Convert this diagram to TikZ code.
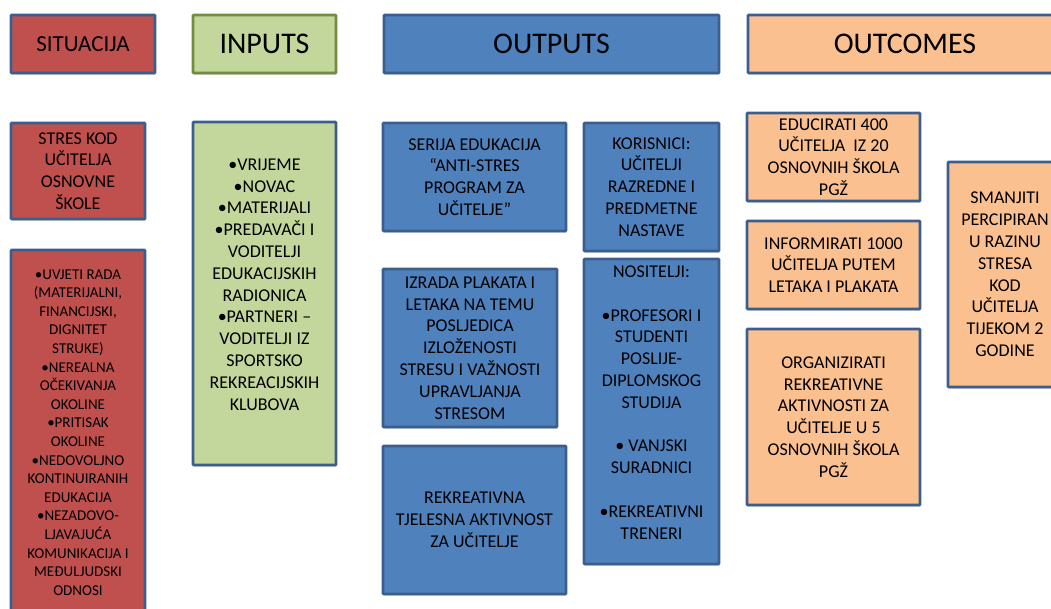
\documentclass[tikz,border=0pt]{standalone}
\usepackage{fontspec}
\setmainfont{Carlito}
\usetikzlibrary{shadows}
\definecolor{cred}{HTML}{C0504D}
\definecolor{cgreen}{HTML}{C3D69B}
\definecolor{cblue}{HTML}{4F81BD}
\definecolor{corange}{HTML}{FAC090}
\definecolor{cborder}{HTML}{3A5F8E}
\definecolor{cgborder}{HTML}{738C3E}
\begin{document}
\begin{tikzpicture}[x=1pt,y=-1pt,
  box/.style={draw=cborder, line width=2.6pt, align=center, inner sep=0pt,
    text=black, rounded corners=0.8pt,
    drop shadow={shadow xshift=0.8pt, shadow yshift=-1.8pt, opacity=0.25, fill=black!60}},
  bodytxt/.style={font=\fontsize{18}{21.8}\selectfont, align=center, text=black},
  smalltxt/.style={font=\fontsize{15}{18.6}\selectfont, align=center, text=black},
  headtxt/.style={font=\fontsize{30}{36}\selectfont}
]
\useasboundingbox (0,0) rectangle (1051,608);
\clip (0,0) rectangle (1051,608);

% headers
\node[box, fill=cred, minimum width=144pt, minimum height=58pt,
  font=\fontsize{23}{28}\selectfont] (sit) at (83,44) {SITUACIJA};
\node[box, draw=cgborder, fill=cgreen, minimum width=143pt, minimum height=58pt, headtxt] (inp) at (264.5,44) {INPUTS};
\node[box, fill=cblue, minimum width=335pt, minimum height=58pt, headtxt] (out) at (551.5,44) {OUTPUTS};
\node[box, fill=corange, minimum width=314pt, minimum height=58pt, headtxt] (outc) at (905,44) {OUTCOMES};

% situacija column
\node[box, fill=cred, minimum width=134pt, minimum height=96pt, bodytxt] (stres) at (78,171)
  {STRES KOD\\UČITELJA\\OSNOVNE\\ŠKOLE};
\node[box, fill=cred, minimum width=134pt, minimum height=369pt] (uvj) at (78,434.5) {};
\node[smalltxt] (uvjt) at ([yshift=2pt]uvj.center)
  {•UVJETI RADA\\(MATERIJALNI,\\FINANCIJSKI,\\DIGNITET\\STRUKE)\\•NEREALNA\\OČEKIVANJA\\OKOLINE\\•PRITISAK\\OKOLINE\\•NEDOVOLJNO\\KONTINUIRANIH\\EDUKACIJA\\•NEZADOVO-\\LJAVAJUĆA\\KOMUNIKACIJA I\\MEĐULJUDSKI\\ODNOSI};

% inputs column
\node[box, fill=cgreen, minimum width=143pt, minimum height=343pt] (inb) at (264.5,293.5) {};
\node[bodytxt] (inbt) at ([yshift=9pt]inb.center)
  {•VRIJEME\\•NOVAC\\•MATERIJALI\\•PREDAVAČI I\\VODITELJI\\EDUKACIJSKIH\\RADIONICA\\•PARTNERI –\\VODITELJI IZ\\SPORTSKO\\REKREACIJSKIH\\KLUBOVA};

% outputs column
\node[box, fill=cblue, minimum width=183pt, minimum height=108pt, bodytxt] (ser) at (474.5,177)
  {SERIJA EDUKACIJA\\“ANTI-STRES\\PROGRAM ZA\\UČITELJE”};
\node[box, fill=cblue, minimum width=174pt, minimum height=158pt, bodytxt] (izr) at (470,348)
  {IZRADA PLAKATA I\\LETAKA NA TEMU\\POSLJEDICA\\IZLOŽENOSTI\\STRESU I VAŽNOSTI\\UPRAVLJANJA\\STRESOM};
\node[box, fill=cblue, minimum width=183pt, minimum height=148pt, bodytxt] (rek) at (474.5,520)
  {REKREATIVNA\\TJELESNA AKTIVNOST\\ZA UČITELJE};
\node[box, fill=cblue, minimum width=135pt, minimum height=128pt, bodytxt] (kor) at (651.5,187)
  {KORISNICI:\\UČITELJI\\RAZREDNE I\\PREDMETNE\\NASTAVE};
\node[box, fill=cblue, minimum width=135pt, minimum height=305pt] (nos) at (651.5,411.5) {};
\node[bodytxt] (nost) at ([yshift=9pt]nos.center)
  {NOSITELJI:\\[21.8pt]•PROFESORI I\\STUDENTI\\POSLIJE-\\DIPLOMSKOG\\STUDIJA\\[21.8pt]• VANJSKI\\SURADNICI\\[21.8pt]•REKREATIVNI\\TRENERI};

% outcomes column
\node[box, fill=corange, minimum width=173pt, minimum height=88pt, bodytxt] (edu) at (833.5,157)
  {EDUCIRATI 400\\UČITELJA~~IZ 20\\OSNOVNIH ŠKOLA\\PGŽ};
\node[box, fill=corange, minimum width=173pt, minimum height=88pt, bodytxt] (inf) at (833.5,265)
  {INFORMIRATI 1000\\UČITELJA PUTEM\\LETAKA I PLAKATA};
\node[box, fill=corange, minimum width=173pt, minimum height=176pt, bodytxt] (org) at (833.5,417)
  {ORGANIZIRATI\\REKREATIVNE\\AKTIVNOSTI ZA\\UČITELJE U 5\\OSNOVNIH ŠKOLA\\PGŽ};
\node[box, fill=corange, minimum width=114pt, minimum height=225pt, bodytxt] (sma) at (1005,274.5)
  {SMANJITI\\PERCIPIRAN\\U RAZINU\\STRESA\\KOD\\UČITELJA\\TIJEKOM 2\\GODINE};
\end{tikzpicture}
\end{document}
